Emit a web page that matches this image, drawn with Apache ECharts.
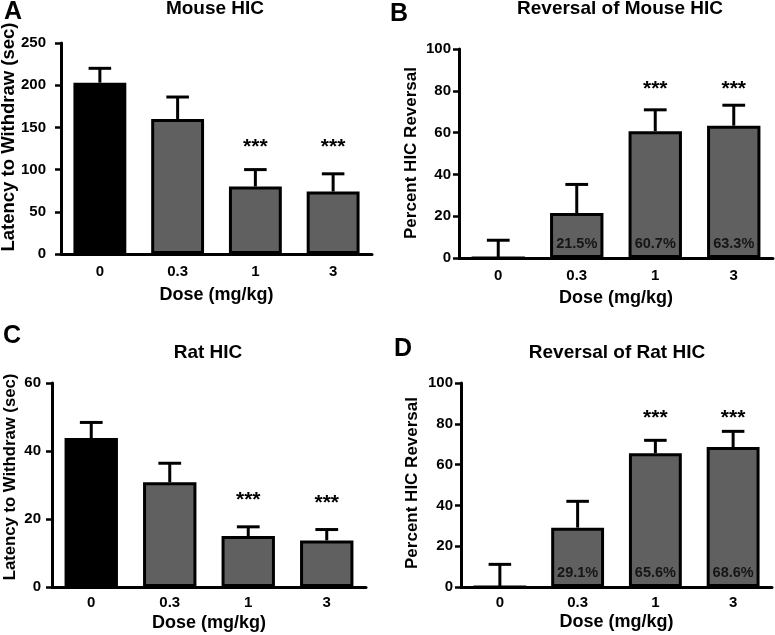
<!DOCTYPE html>
<html>
<head>
<meta charset="utf-8">
<script src="https://cdn.jsdelivr.net/npm/echarts@6/dist/echarts.min.js"></script>
<style>
html,body{margin:0;padding:0;background:#fff;}
#chart{width:775px;height:635px;}
</style>
</head>
<body>
<div id="chart"></div>
<script>
// ---- data ----
const doses = ['0', '0.3', '1', '3'];

const mouseLatency = [203, 160, 80, 74];
const mouseLatencySem = [17, 26, 20, 21];
const mouseLatencyStars = [null, null, 133, 133];

const mouseReversal = [0, 21.5, 60.7, 63.3];
const mouseReversalSem = [8.5, 13.7, 10.2, 9.8];
const mouseReversalStars = [null, null, 83, 83];

const ratLatency = [43.8, 30.8, 15.0, 13.7];
const ratLatencySem = [4.6, 5.6, 2.7, 3.2];
const ratLatencyStars = [null, null, 27.1, 26.1];

const ratReversal = [0, 29.1, 65.6, 68.6];
const ratReversalSem = [11.1, 12.9, 6.3, 7.7];
const ratReversalStars = [null, null, 85.2, 85.2];

const yTicksLatencyMouse = {min: 0, max: 250, interval: 50};
const yTicksLatencyRat = {min: 0, max: 60, interval: 20};
const yTicksReversal = {min: 0, max: 100, interval: 20};

const panelTitles = ['Mouse HIC', 'Reversal of Mouse HIC', 'Rat HIC', 'Reversal of Rat HIC'];
const panelLetters = ['A', 'B', 'C', 'D'];
const yNames = ['Latency to Withdraw (sec)', 'Percent HIC Reversal', 'Latency to Withdraw (sec)', 'Percent HIC Reversal'];
const xName = 'Dose (mg/kg)';

// ---- layout / style ----
const FONT = '"Liberation Sans", Arial, Helvetica, sans-serif';
const GRAY = '#606060';

const panels = [
  {grid: {left: 61, top: 43, width: 311, height: 211}, ticks: yTicksLatencyMouse, means: mouseLatency, sem: mouseLatencySem, stars: mouseLatencyStars, firstBlack: true, pct: false, yMargin: 15, xMargin: 10, xGap: 32,
   title: [215, 9], letter: [13, 12], yName: [9, 137, 18.5]},
  {grid: {left: 459, top: 49, width: 314, height: 209}, ticks: yTicksReversal, means: mouseReversal, sem: mouseReversalSem, stars: mouseReversalStars, firstBlack: false, pct: true, yMargin: 8, xMargin: 10, xGap: 31,
   title: [620, 9], letter: [399, 14], yName: [411, 153, 17]},
  {grid: {left: 52, top: 383, width: 314, height: 204}, ticks: yTicksLatencyRat, means: ratLatency, sem: ratLatencySem, stars: ratLatencyStars, firstBlack: true, pct: false, yMargin: 11, xMargin: 8, xGap: 27,
   title: [208, 353], letter: [12, 336], yName: [10, 477, 16.7]},
  {grid: {left: 461, top: 383, width: 311, height: 204}, ticks: yTicksReversal, means: ratReversal, sem: ratReversalSem, stars: ratReversalStars, firstBlack: false, pct: true, yMargin: 8, xMargin: 8, xGap: 26,
   title: [617, 353], letter: [403, 349], yName: [412, 483, 17]}
];

function errRender(params, api) {
  const x = api.value(0), lo = api.value(1), hi = api.value(2);
  const p0 = api.coord([x, lo]);
  const p1 = api.coord([x, hi]);
  const half = api.size([1, 0])[0] * 0.145;
  return {
    type: 'group',
    children: [
      {type: 'line', shape: {x1: p0[0], y1: p0[1], x2: p1[0], y2: p1[1]}, style: {stroke: '#000', lineWidth: 3}},
      {type: 'line', shape: {x1: p1[0] - half, y1: p1[1], x2: p1[0] + half, y2: p1[1]}, style: {stroke: '#000', lineWidth: 3}}
    ]
  };
}

function starRender(params, api) {
  const p = api.coord([api.value(0), api.value(1)]);
  return {
    type: 'text',
    x: p[0], y: p[1] + 5,
    style: {text: '***', font: 'bold 21px ' + FONT, fill: '#000', align: 'center', verticalAlign: 'middle', textAlign: 'center', textVerticalAlign: 'middle'}
  };
}

const grids = [], xAxes = [], yAxes = [], series = [], graphics = [];

panels.forEach((pn, i) => {
  grids.push(Object.assign({containLabel: false}, pn.grid));
  xAxes.push({
    type: 'category', gridIndex: i, data: doses,
    name: xName, nameLocation: 'middle', nameGap: pn.xGap,
    nameTextStyle: {fontFamily: FONT, fontWeight: 'bold', fontSize: 18, color: '#000'},
    axisLine: {lineStyle: {color: '#000', width: 3}},
    axisTick: {alignWithLabel: true, length: 6, lineStyle: {color: '#000', width: 2.5}},
    axisLabel: {fontFamily: FONT, fontWeight: 'bold', fontSize: 15, color: '#000', margin: pn.xMargin},
    splitLine: {show: false}
  });
  yAxes.push({
    type: 'value', gridIndex: i, min: pn.ticks.min, max: pn.ticks.max, interval: pn.ticks.interval,
    axisLine: {show: true, lineStyle: {color: '#000', width: 3}},
    axisTick: {show: true, length: 6, lineStyle: {color: '#000', width: 2.5}},
    axisLabel: {fontFamily: FONT, fontWeight: 'bold', fontSize: 15, color: '#000', margin: pn.yMargin},
    splitLine: {show: false}
  });
  series.push({
    type: 'bar', xAxisIndex: i, yAxisIndex: i, barWidth: '68%',
    data: pn.means.map((v, j) => ({value: v, itemStyle: {color: (pn.firstBlack && j === 0) ? '#000' : GRAY}})),
    itemStyle: {borderColor: '#000', borderWidth: 3},
    label: pn.pct ? {
      show: true, position: 'insideBottom', distance: 7,
      formatter: p => p.dataIndex === 0 ? '' : p.value.toFixed(1) + '%',
      fontFamily: FONT, fontWeight: 'bold', fontSize: 14.5, color: '#151515'
    } : {show: false},
    silent: true, animation: false, z: 2
  });
  series.push({
    type: 'custom', xAxisIndex: i, yAxisIndex: i, renderItem: errRender,
    data: pn.means.map((v, j) => [j, v, v + pn.sem[j]]),
    silent: true, animation: false, z: 3
  });
  series.push({
    type: 'custom', xAxisIndex: i, yAxisIndex: i, renderItem: starRender,
    data: pn.stars.map((v, j) => [j, v]).filter(d => d[1] != null),
    silent: true, animation: false, z: 4
  });

  graphics.push({
    type: 'text', x: pn.title[0], y: pn.title[1],
    style: {text: panelTitles[i], font: 'bold 19px ' + FONT, fill: '#000', align: 'center', verticalAlign: 'middle', textAlign: 'center', textVerticalAlign: 'middle'}
  });
  graphics.push({
    type: 'text', x: pn.letter[0], y: pn.letter[1],
    style: {text: panelLetters[i], font: 'bold 25px ' + FONT, fill: '#000', align: 'center', verticalAlign: 'middle', textAlign: 'center', textVerticalAlign: 'middle'}
  });
  graphics.push({
    type: 'text', x: pn.yName[0], y: pn.yName[1], rotation: Math.PI / 2,
    style: {text: yNames[i], font: 'bold ' + pn.yName[2] + 'px ' + FONT, fill: '#000', align: 'center', verticalAlign: 'middle', textAlign: 'center', textVerticalAlign: 'middle'}
  });
});

const chart = echarts.init(document.getElementById('chart'), null, {renderer: 'canvas'});
chart.setOption({
  backgroundColor: '#fff',
  animation: false,
  grid: grids,
  xAxis: xAxes,
  yAxis: yAxes,
  series: series,
  graphic: graphics
});
</script>
</body>
</html>
